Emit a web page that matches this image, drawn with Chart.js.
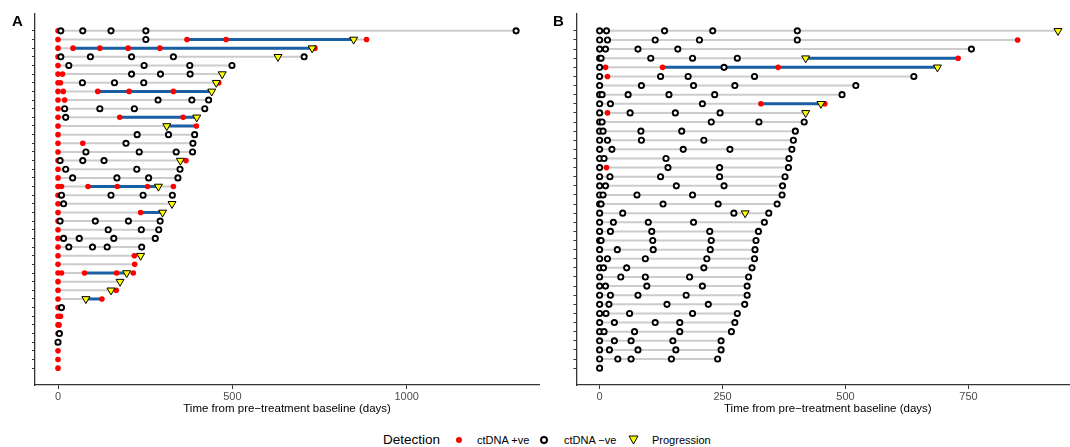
<!DOCTYPE html>
<html>
<head>
<meta charset="utf-8">
<script src="https://cdn.jsdelivr.net/npm/chart.js@4.4.1/dist/chart.umd.min.js"></script>
<style>
    html, body { margin: 0; padding: 0; width: 1070px; height: 447px; overflow: hidden; background: #fff; }
    body { position: relative; font-family: "Liberation Sans", Arial, sans-serif; }
    .panel { position: absolute; top: 0; }
    #panelA { left: 0; }
    #panelB { left: 540px; }
    .tag { position: absolute; font-weight: bold; font-size: 15px; line-height: 15px; color: #000; }
    .lg { position: absolute; font-size: 11px; line-height: 12px; top: 434px; color: #000; white-space: nowrap; }
    .mark { position: absolute; box-sizing: border-box; }
</style>
</head>
<body>
<canvas id="panelA" class="panel" width="545" height="417"></canvas>
<canvas id="panelB" class="panel" width="545" height="417"></canvas>
<div class="tag" style="left:12px; top:13px;">A</div>
<div class="tag" style="left:553px; top:13px;">B</div>

<div class="lg" style="left:383px; top:433px; font-size:13.5px; line-height:14px;">Detection</div>
<div class="mark" style="left:456px; top:437px; width:6px; height:6px; border-radius:50%; background:#ff0000;"></div>
<div class="lg" style="left:477px;">ctDNA +ve</div>
<div class="mark" style="left:540px; top:436px; width:8px; height:8px; border-radius:50%; border:2px solid #000;"></div>
<div class="lg" style="left:564px;">ctDNA &minus;ve</div>
<svg class="mark" style="left:628px; top:435px;" width="11" height="10"><polygon points="1,1 10,1 5.5,9" fill="#ffff00" stroke="#000" stroke-width="1"/></svg>
<div class="lg" style="left:652px;">Progression</div>

<script>
// Panel A - one entry per patient, days from baseline
const posA = [
    [0], [0, 370, 482, 885], [0, 43, 120, 201, 292, 737], [0], [0],
    [0, 13], [0, 7, 461], [0, 15, 114, 204, 331], [0, 19], [0],
    [0, 177, 359], [0, 397], [0], [0, 71], [0],
    [0, 367], [0], [0], [0, 10, 86, 170, 257, 331], [0],
    [0], [0, 237], [0], [0], [0],
    [0], [0, 219], [0, 220], [0, 10, 76, 168, 216], [0],
    [0, 167], [0, 126], [0], [0, 7], [0, 3],
    [0], [0], [0], [0], [0]
];
const negA = [
    [8, 71, 152, 252, 1314], [252], [], [8, 93, 211, 331, 706], [31, 247, 378, 499],
    [211, 294, 379], [70, 162, 246], [], [287, 384, 432], [19, 120, 219, 421],
    [22], [], [227, 317, 392], [195, 387], [80, 233, 339, 386],
    [6, 71, 132], [22, 226, 350], [42, 169, 260, 344], [], [10, 152, 244, 328],
    [16], [], [6, 107, 202, 293], [144, 239, 289], [16, 61, 160, 279],
    [31, 99, 141, 240], [], [], [], [],
    [], [], [10], [], [],
    [4], [0], [], [], []
];
const progA = [
    null, 848, 729, 631, null, 471, 454, 441, null, null,
    398, 312, null, null, null, 351, null, null, 288, null,
    327, 300, null, null, null, null, 237, null, 197, 178,
    152, 80, null, null, null, null, null, null, null, null
];
const blueA = [
    null, [370, 848], [43, 729], null, null, null, null, [114, 441], null, null,
    [177, 398], [312, 397], null, null, null, null, null, null, [86, 288], null,
    null, [237, 300], null, null, null, null, null, null, [76, 197], null,
    null, [80, 126], null, null, null, null, null, null, null, null
];
const xTicksA = [0, 500, 1000];

// Panel B
const posB = [
    [], [850], [], [729], [12, 128, 363], [16], [], [], [328, 458], [16],
    [], [], [], [], [], [14], [], [], [], [],
    [], [], [], [], [], [], [], [], [], [],
    [], [], [], [], [], [], [], []
];
const negB = [
    [0, 14, 132, 230, 402], [0, 16, 113, 203, 402], [0, 12, 78, 159, 756], [0, 3, 104, 189, 280],
    [0, 253], [0, 124, 180, 315, 639], [0, 85, 191, 275, 521], [0, 5, 58, 141, 234, 493],
    [0, 22, 209], [0, 62, 154, 245], [0, 5, 227, 324, 416], [0, 7, 84, 167, 398],
    [0, 16, 85, 212, 394], [0, 25, 170, 265, 391], [0, 9, 135, 385], [0, 139, 244, 384],
    [0, 21, 124, 244, 377], [0, 12, 156, 253, 372], [0, 7, 76, 189, 371], [0, 3, 129, 241, 361],
    [0, 47, 273, 344], [0, 28, 99, 191, 335], [0, 22, 106, 224, 323], [0, 3, 108, 227, 318],
    [0, 36, 109, 225, 316], [0, 16, 93, 218, 315], [0, 8, 55, 212, 310], [0, 43, 93, 183, 303],
    [0, 12, 96, 209, 300], [0, 22, 78, 176, 300], [0, 19, 137, 221, 295], [0, 13, 61, 189, 280],
    [0, 30, 113, 163, 275], [0, 9, 71, 163, 268], [0, 30, 64, 149, 247], [0, 20, 78, 155, 247],
    [0, 37, 64, 146, 240], [0]
];
const progB = [
    932, null, null, 419, 687, null, null, null, 450, 419,
    null, null, null, null, null, null, null, null, null, null,
    296, null, null, null, null, null, null, null, null, null,
    null, null, null, null, null, null, null, null
];
const blueB = [
    null, null, null, [419, 729], [128, 687], null, null, null, [328, 450], null,
    null, null, null, null, null, null, null, null, null, null,
    null, null, null, null, null, null, null, null, null, null,
    null, null, null, null, null, null, null, null
];
const xTicksB = [0, 250, 500, 750];

const FONT = '"Liberation Sans", Arial, sans-serif';
const AXIS_COL = '#333333';

function buildDatasets(pos, neg, prog, blue) {
    const sets = [];
    pos.forEach((reds, i) => {
        const row = i + 1;
        const all = reds.concat(neg[i], prog[i] === null ? [] : [prog[i]]);
        const last = Math.max(...all);
        if (last > 0) {
            sets.push({
                data: [{ x: 0, y: row }, { x: last, y: row }],
                showLine: true, borderColor: '#cccccc', borderWidth: 2,
                pointRadius: 0, order: 4
            });
        }
        if (blue[i]) {
            sets.push({
                data: [{ x: blue[i][0], y: row }, { x: blue[i][1], y: row }],
                showLine: true, borderColor: '#1b5fa3', borderWidth: 3,
                pointRadius: 0, order: 3
            });
        }
    });
    sets.push({
        label: 'ctDNA +ve',
        data: pos.flatMap((xs, i) => xs.map(x => ({ x, y: i + 1 }))),
        pointRadius: 2.8, backgroundColor: '#ff0000', borderWidth: 0, order: 2
    });
    sets.push({
        label: 'ctDNA -ve',
        data: neg.flatMap((xs, i) => xs.map(x => ({ x, y: i + 1 }))),
        pointRadius: 2.6, backgroundColor: '#ffffff', borderColor: '#000000',
        borderWidth: 1.9, order: 1
    });
    sets.push({
        label: 'Progression',
        data: prog.map((x, i) => x === null ? null : { x, y: i + 1 }).filter(p => p),
        pointStyle: 'triangle', rotation: 180, pointRadius: 4.6,
        backgroundColor: '#ffff00', borderColor: '#000000', borderWidth: 1, order: 0
    });
    return sets;
}

function makePanel(id, pos, neg, prog, blue, xMin, xMax, xTicks, yWidth, padRight) {
    const n = pos.length;
    const pad = 0.05 * (n - 1);
    const rows = pos.map((_, i) => i + 1);
    new Chart(document.getElementById(id), {
        type: 'scatter',
        data: { datasets: buildDatasets(pos, neg, prog, blue) },
        options: {
            responsive: false,
            animation: false,
            events: [],
            layout: { padding: { left: 0, right: padRight, top: 14, bottom: 0 } },
            plugins: { legend: { display: false }, tooltip: { enabled: false } },
            scales: {
                x: {
                    type: 'linear', min: xMin, max: xMax,
                    afterBuildTicks: ax => { ax.ticks = xTicks.map(v => ({ value: v })); },
                    afterFit: ax => { ax.height = 32; },
                    ticks: {
                        color: '#4d4d4d', font: { family: FONT, size: 11 }, padding: 1, maxRotation: 0,
                        callback: v => String(v)
                    },
                    grid: { drawOnChartArea: false, tickLength: 4, tickColor: AXIS_COL },
                    border: { display: true, color: AXIS_COL, width: 1.3 },
                    title: {
                        display: true, text: 'Time from pre\u2212treatment baseline (days)',
                        color: '#000', font: { family: FONT, size: 11.5 }, padding: { top: 0, bottom: 1 }
                    }
                },
                y: {
                    type: 'linear', reverse: true, min: 1 - pad, max: n + pad,
                    afterBuildTicks: ax => { ax.ticks = rows.map(v => ({ value: v })); },
                    afterFit: ax => { ax.width = yWidth; },
                    ticks: { display: false },
                    grid: { drawOnChartArea: false, tickLength: 3, tickColor: AXIS_COL },
                    border: { display: true, color: AXIS_COL, width: 1.3 }
                }
            }
        }
    });
}

makePanel('panelA', posA, negA, progA, blueA, -66, 1380, xTicksA, 35, 5);
makePanel('panelB', posB, negB, progB, blueB, -47, 975, xTicksB, 36.5, 3);
</script>
</body>
</html>
